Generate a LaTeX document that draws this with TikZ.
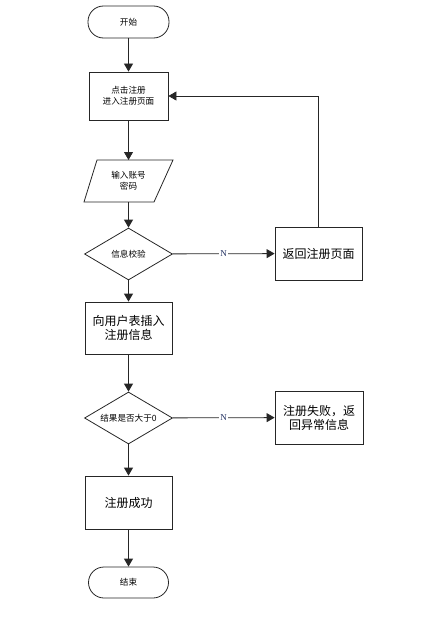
\documentclass[tikz,border=0pt]{standalone}
\usepackage{fontspec}
\newfontfamily\cjk{Noto Sans CJK SC}
\setmainfont{Liberation Serif}
\usetikzlibrary{shapes.geometric,arrows.meta}
\tikzset{
  every node/.style={font=\cjk},
  line/.style={draw=black!85, line width=0.8pt},
  arr/.style={line, -{Triangle[length=8pt,width=9pt]}},
  small/.style={font=\cjk\fontsize{8.6}{11}\selectfont, align=center},
  big/.style={font=\cjk\fontsize{12}{14}\selectfont, align=center},
  term/.style={line, rectangle, rounded corners=15.5pt, inner sep=0pt, small},
  proc/.style={line, rectangle, inner sep=0pt},
  dec/.style={line, diamond, inner sep=1pt, aspect=1.69, small},
  nlab/.style={font=\fontsize{9}{10}\selectfont, text={rgb,255:red,30;green,45;blue,95}, fill=white, inner sep=1pt}
}
\begin{document}
\begin{tikzpicture}[x=1pt,y=-1pt]
\useasboundingbox (0,0) rectangle (437,618);
\node[term, minimum width=81pt, minimum height=32pt] (start) at (128.5,22) {开始};
\node[proc, small, minimum width=79pt, minimum height=48pt] (reg) at (128.5,96) {点击注册\\进入注册页面};
\draw[line] (84,202) -- (97,160) -- (173,160) -- (154,202) -- cycle;
\coordinate (inTop) at (128.5,160);
\coordinate (inBot) at (128.5,202);
\node[small] (input) at (128.5,181) {输入账号\\密码};
\node[dec, minimum width=88pt, minimum height=52pt] (check) at (128.5,254) {信息校验};
\node[proc, big, minimum width=87pt, minimum height=53pt] (back) at (318.5,253.5) {返回注册页面};
\node[proc, big, minimum width=87pt, minimum height=52pt] (insert) at (128.5,328) {向用户表插入\\注册信息};
\node[dec, minimum width=88pt, minimum height=52pt] (res) at (128.5,418) {结果是否大于0};
\node[proc, big, minimum width=88pt, minimum height=53pt] (fail) at (319,417.5) {注册失败，返\\回异常信息};
\node[proc, big, minimum width=87pt, minimum height=53pt] (ok) at (128.5,502.5) {注册成功};
\node[term, minimum width=80pt, minimum height=31pt] (end) at (128.5,582.5) {结束};

\draw[arr] (start) -- (reg);
\draw[arr] (reg) -- (inTop);
\draw[arr] (inBot) -- (check);
\draw[arr] (check) -- (insert);
\draw[arr] (insert) -- (res);
\draw[arr] (res) -- (ok);
\draw[arr] (ok) -- (end);
\draw[arr] (check) -- node[nlab] {N} (back);
\draw[arr] (res) -- node[nlab] {N} (fail);
\draw[arr] (back.north) |- (reg.east);
\end{tikzpicture}
\end{document}
